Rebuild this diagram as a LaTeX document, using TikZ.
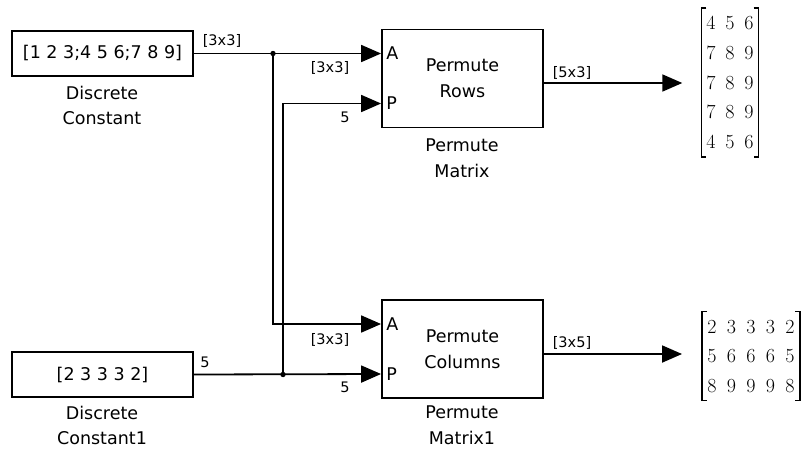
\documentclass[tikz,border=0pt]{standalone}
\usepackage{fontspec}
\setsansfont{DejaVu Sans}
\usetikzlibrary{arrows.meta,matrix}

\tikzset{
  blk/.style={draw, line width=1.8pt, inner sep=0pt, align=center,
    font=\sffamily\fontsize{17.5}{26}\selectfont},
  blkcap/.style={inner sep=0pt, align=center, font=\sffamily\fontsize{17.5}{25.5}\selectfont},
  sig/.style={line width=1.8pt, -{Triangle[length=20pt,width=17pt]}},
  lbl/.style={inner sep=0pt, font=\sffamily\fontsize{14.5}{16}\selectfont},
  port/.style={inner sep=0pt, anchor=west, font=\sffamily\fontsize{17.5}{20}\selectfont},
  mat/.style={matrix of nodes, inner sep=0pt,
    nodes={inner sep=0pt, minimum height=29.5pt, font=\rmfamily\fontsize{20}{24}\selectfont}},
  brk/.style={line width=1.3pt}
}

\begin{document}
\begin{tikzpicture}[x=1pt, y=-1pt]
    \useasboundingbox (0,0) rectangle (801,448);
    % sources
    \node[blk, minimum width=181pt, minimum height=45pt] (dconst) at (102.5,53.5) {[1 2 3;4 5 6;7 8 9]};
    \node[blk, minimum width=181pt, minimum height=45pt] (dconstb) at (102.5,374.5) {[2 3 3 3 2]};
    \node[blkcap] (dconstcap) at (102,105.5) {Discrete\\Constant};
    \node[blkcap] (dconstbcap) at (102,425.5) {Discrete\\Constant1};
    % permute blocks
    \node[blk, minimum width=161pt, minimum height=98pt] (prows) at (462.5,78.5) {Permute\\Rows};
    \node[blk, minimum width=161pt, minimum height=98pt] (pcols) at (462.5,349) {Permute\\Columns};
    \node[blkcap] (prowscap) at (462,158) {Permute\\Matrix};
    \node[blkcap] (pcolscap) at (462,425) {Permute\\Matrix1};
    % ports
    \coordinate (rowsA) at ([yshift=25pt]prows.west);
    \coordinate (rowsP) at ([yshift=-25pt]prows.west);
    \coordinate (colsA) at ([yshift=25pt]pcols.west);
    \coordinate (colsP) at ([yshift=-25pt]pcols.west);
    \coordinate (rowsOut) at ([yshift=-4.5pt]prows.east);
    \coordinate (colsOut) at ([yshift=-5pt]pcols.east);
    \node[port] (rowsAl) at ([xshift=5pt]rowsA) {A};
    \node[port] (rowsPl) at ([xshift=5pt]rowsP) {P};
    \node[port] (colsAl) at ([xshift=5pt]colsA) {A};
    \node[port] (colsPl) at ([xshift=5pt]colsP) {P};
    % displays
    \matrix (outrows) [mat, nodes={minimum width=19pt}] at (730,82.5) {
      4 & 5 & 6 \\
      7 & 8 & 9 \\
      7 & 8 & 9 \\
      7 & 8 & 9 \\
      4 & 5 & 6 \\
    };
    \matrix (outcols) [mat, nodes={minimum width=19.5pt}] at (751,356) {
      2 & 3 & 3 & 3 & 2 \\
      5 & 6 & 6 & 6 & 5 \\
      8 & 9 & 9 & 9 & 8 \\
    };
    \foreach \m in {outrows, outcols} {
      \draw[brk] ([xshift=5pt]\m.north west) -- (\m.north west) -- (\m.south west) -- ([xshift=5pt]\m.south west);
      \draw[brk] ([xshift=-5pt]\m.north east) -- (\m.north east) -- (\m.south east) -- ([xshift=-5pt]\m.south east);
    }
    % branch points
    \coordinate (br1) at (273,53.5);
    \coordinate (br2) at (283,374.5);
    % signals
    \draw[sig] (dconst.east) -- (rowsA);
    \draw[sig] (br1) |- (colsA);
    \draw[sig] (dconstb.east) -- (colsP);
    \draw[sig] (br2) |- (rowsP);
    \fill (br1) circle (2.7pt);
    \fill (br2) circle (2.7pt);
    \draw[sig, shorten >=19pt] (rowsOut) -- (rowsOut -| outrows.west);
    \draw[sig, shorten >=20pt] (colsOut) -- (colsOut -| outcols.west);
    % signal labels
    \node[lbl] (s1) at (222,41) {[3x3]};
    \node[lbl] (s2) at (330,68) {[3x3]};
    \node[lbl] (s3) at (345,117.5) {5};
    \node[lbl] (s4) at (330,340) {[3x3]};
    \node[lbl] (s5) at (205,362) {5};
    \node[lbl] (s6) at (345,387.5) {5};
    \node[lbl] (s7) at (572,73) {[5x3]};
    \node[lbl] (s8) at (572,343) {[3x5]};
\end{tikzpicture}
\end{document}
